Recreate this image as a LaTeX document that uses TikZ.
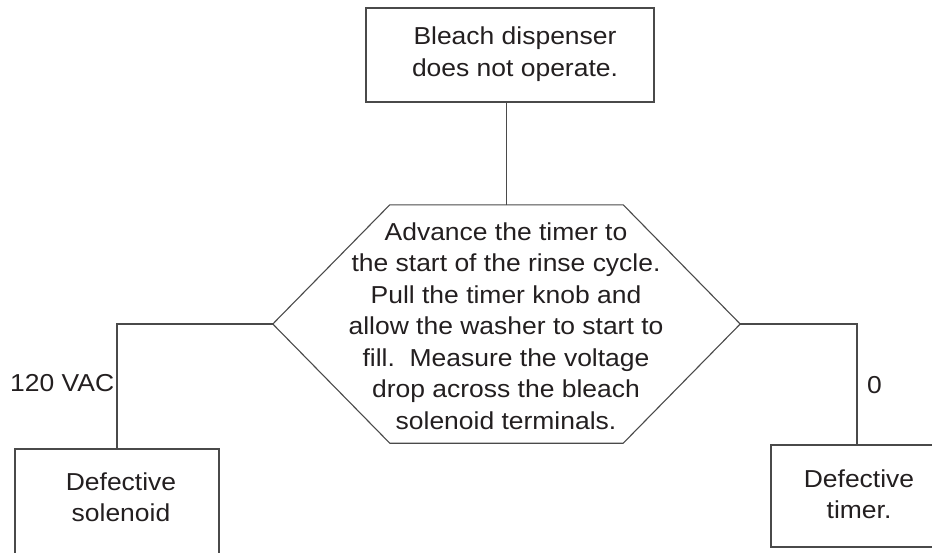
\documentclass[tikz,border=0pt]{standalone}
\usepackage{fontspec}
\setmainfont{Liberation Sans}[FakeStretch=1.08]
\usetikzlibrary{calc}
\definecolor{ln}{HTML}{4A4A4A}
\definecolor{tx}{HTML}{231F20}
\begin{document}
\begin{tikzpicture}[x=1pt,y=-1pt,
  box/.style={draw=ln,line width=1.1pt,minimum width=#1,inner sep=0pt},
  txt/.style={text=tx,align=center,inner sep=0pt,font=\fontsize{24.5}{31.5}\selectfont},
  conn/.style={draw=ln,line width=1.1pt}]
\useasboundingbox (0,0) rectangle (932,552);
\clip (0,0) rectangle (932,552);
\fill[white] (0,0) rectangle (932,552);
% boxes
\node[box=288pt,minimum height=94pt] (top) at (510,55) {};
\node[box=204pt,minimum height=120pt] (left) at (117,509) {};
\node[box=172pt,minimum height=102pt] (right) at (857,496) {};
% hexagon frame
\node[inner sep=0pt,minimum width=467pt,minimum height=238pt] (hex) at (506.5,324) {};
\draw[conn] (hex.west) -- ($(hex.north west)+(117,0)$) -- ($(hex.north east)+(-117,0)$)
  -- (hex.east) -- ($(hex.south east)+(-117,0)$) -- ($(hex.south west)+(117,0)$) -- cycle;
% texts
\node[txt] (toptext) at (515,54) {Bleach dispenser\\does not operate.};
\node[txt] (hextext) at (506,326) {Advance the timer to\\the start of the rinse cycle.\\Pull the timer knob and\\allow the washer to start to\\fill.\ \ Measure the voltage\\drop across the bleach\\solenoid terminals.};
\node[txt] (lefttext) at (121,497) {Defective\\solenoid};
\node[txt] (righttext) at (859,494) {Defective\\timer.};
\node[txt,anchor=base west] (lab120) at (10,391) {120 VAC};
\node[txt,anchor=base west] (lab0) at (867,393) {0};
% connectors
\draw[conn] (hex.north) -- (hex.north |- top.south);
\draw[conn] (hex.west) -| (left.north);
\draw[conn] (hex.east) -| (right.north);
\end{tikzpicture}
\end{document}
